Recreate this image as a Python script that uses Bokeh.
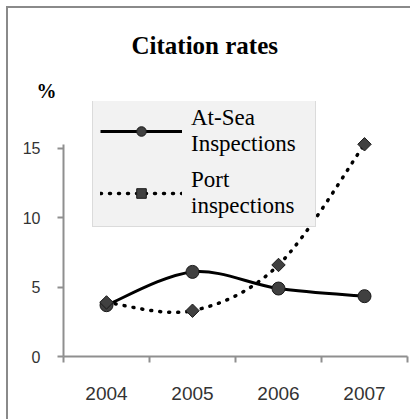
import math
from bokeh.plotting import figure
from bokeh.models import (FixedTicker, Legend, LegendItem, ColumnDataSource, Range1d, Title,
                          InlineStyleSheet, GlobalInlineStyleSheet)
from bokeh.embed import file_html
from bokeh.resources import INLINE

# ---- data ----
years = ["2004", "2005", "2006", "2007"]
at_sea = [3.7, 6.1, 4.9, 4.35]
port = [3.9, 3.3, 6.6, 15.3]
y_ticks = [0, 5, 10, 15]
title_text = "Citation rates"
y_unit = "%"
label_at_sea = "At-Sea\nInspections"
label_port = "Port\ninspections"

xpos = [i + 0.5 for i in range(len(years))]
bounds = list(range(len(years) + 1))


def smooth_segments(xs, ys, k=1.0 / 6.0):
    n = len(xs)
    d = dict(x0=[], y0=[], x1=[], y1=[], cx0=[], cy0=[], cx1=[], cy1=[])
    for i in range(n - 1):
        a = max(i - 1, 0)
        b = min(i + 2, n - 1)
        d["x0"].append(xs[i]); d["y0"].append(ys[i])
        d["x1"].append(xs[i + 1]); d["y1"].append(ys[i + 1])
        d["cx0"].append(xs[i] + (xs[i + 1] - xs[a]) * k)
        d["cy0"].append(ys[i] + (ys[i + 1] - ys[a]) * k)
        d["cx1"].append(xs[i + 1] - (xs[b] - xs[i]) * k)
        d["cy1"].append(ys[i + 1] - (ys[b] - ys[i]) * k)
    return ColumnDataSource(d)


p = figure(width=410, height=419, x_range=Range1d(0, 4), y_range=Range1d(0, 18.385),
           output_backend="svg", toolbar_location=None, title=None,
           min_border_left=63, min_border_right=3, min_border_top=101, min_border_bottom=63)
p.outline_line_color = None
p.grid.grid_line_color = None
p.background_fill_color = "white"
p.border_fill_color = "white"
p.stylesheets = [
    GlobalInlineStyleSheet(css="html, body { overflow: hidden !important; }"),
    InlineStyleSheet(css=(
        ":host { position: relative; overflow: hidden; }"
        ":host::before { content: ''; position: absolute; left: 6px; top: 6px; width: 404px; height: 2px;"
        " background: #8a8a8a; pointer-events: none; z-index: 10; }"
        ":host::after { content: ''; position: absolute; left: 6px; top: 6px; width: 2px; height: 413px;"
        " background: #8a8a8a; pointer-events: none; z-index: 10; }")),
]

axis_col = "#8f8f8f"
# x axis
p.xaxis.ticker = FixedTicker(ticks=xpos, minor_ticks=bounds)
p.xaxis.major_label_overrides = {xpos[i]: years[i] for i in range(len(years))}
p.xaxis.major_tick_line_color = None
p.xaxis.minor_tick_line_color = axis_col
p.xaxis.minor_tick_line_width = 2
p.xaxis.minor_tick_out = 6
p.xaxis.minor_tick_in = 0
p.xaxis.major_tick_out = 0
p.xaxis.major_label_standoff = 24
p.xaxis.axis_line_color = axis_col
p.xaxis.axis_line_width = 2
p.xaxis.major_label_text_font = "Liberation Sans"
p.xaxis.major_label_text_font_size = "19px"
p.xaxis.major_label_text_color = "#333333"

# y axis
p.yaxis.ticker = FixedTicker(ticks=y_ticks)
p.yaxis.bounds = (0, 15.3)
p.yaxis.minor_tick_line_color = None
p.yaxis.major_tick_line_color = axis_col
p.yaxis.major_tick_line_width = 2
p.yaxis.major_tick_out = 6
p.yaxis.major_tick_in = 0
p.yaxis.major_label_standoff = 17
p.yaxis.axis_line_color = axis_col
p.yaxis.axis_line_width = 2
p.yaxis.major_label_text_font = "Liberation Sans"
p.yaxis.major_label_text_font_size = "16px"
p.yaxis.major_label_text_color = "#333333"

# series
l1 = p.bezier(x0="x0", y0="y0", x1="x1", y1="y1", cx0="cx0", cy0="cy0", cx1="cx1", cy1="cy1",
              source=smooth_segments(xpos, at_sea), line_color="black", line_width=3)
m1 = p.scatter(xpos, at_sea, marker="circle", size=13, fill_color="#404040", line_color="#1a1a1a")

l2 = p.bezier(x0="x0", y0="y0", x1="x1", y1="y1", cx0="cx0", cy0="cy0", cx1="cx1", cy1="cy1",
              source=smooth_segments(xpos, port), line_color="black", line_width=3.5,
              line_dash="1 8", line_cap="round")
m2 = p.scatter(xpos, port, marker="square", angle=math.pi / 4, size=9.5,
               fill_color="#404040", line_color="#1a1a1a")

legend = Legend(items=[LegendItem(label=label_at_sea, renderers=[l1, m1]),
                       LegendItem(label=label_port, renderers=[l2, m2])],
                location=(29, 129), background_fill_color="#f2f2f2", background_fill_alpha=1,
                border_line_color="#c4c4c4", border_line_width=1.5,
                label_text_font="Liberation Serif", label_text_font_size="23px",
                label_text_line_height=1.0,
                label_text_color="black", glyph_width=82, glyph_height=24,
                label_standoff=9, label_width=117, padding=7, spacing=10, margin=0)
p.add_layout(legend, "center")

p.add_layout(Title(text=y_unit, align="left", offset=-27, standoff=0,
                   text_font="Liberation Serif", text_font_style="bold", text_font_size="20px",
                   text_color="black"), "above")
p.add_layout(Title(text=title_text, align="left", offset=68, standoff=37,
                   text_font="Liberation Serif", text_font_style="bold", text_font_size="25px",
                   text_color="black"), "above")

open("out.html", "w").write(file_html(p, INLINE))
